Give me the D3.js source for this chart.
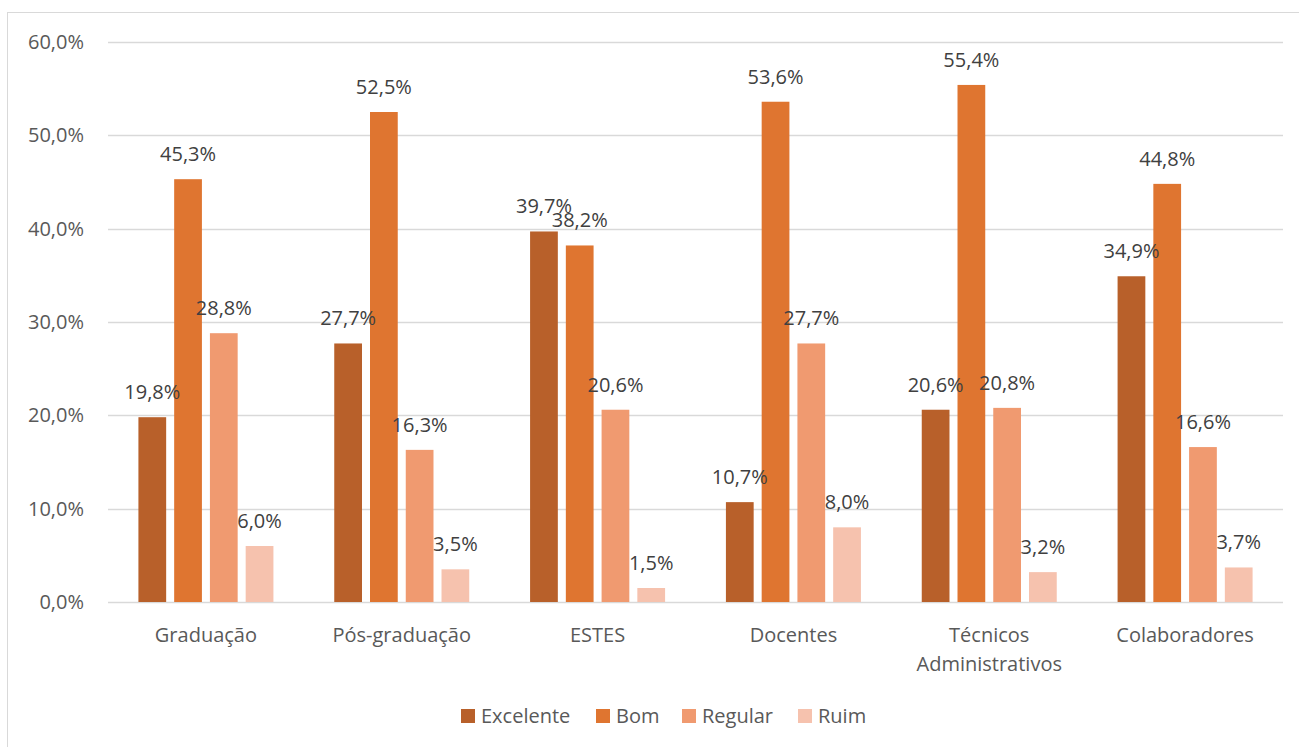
<!DOCTYPE html>
<html>
<head>
<meta charset="utf-8">
<script src="https://cdn.jsdelivr.net/npm/d3@7"></script>
<style>
  html, body { margin: 0; padding: 0; background: #fff; }
  svg text { font-family: "Open Sans", "Noto Sans", sans-serif; fill: #595959; }
  svg text.value { fill: #404040; }
</style>
</head>
<body>
<svg id="chart" width="1299" height="747"></svg>
<script>
// Categories (x axis), one line per entry
const categories = ["Graduação", "Pós-graduação", "ESTES", "Docentes", "Técnicos Administrativos", "Colaboradores"];
const categoryLines = [["Graduação"], ["Pós-graduação"], ["ESTES"], ["Docentes"], ["Técnicos", "Administrativos"], ["Colaboradores"]];

// Series (percent per category)
const seriesNames = ["Excelente", "Bom", "Regular", "Ruim"];
const excelente = [19.8, 27.7, 39.7, 10.7, 20.6, 34.9];
const bom       = [45.3, 52.5, 38.2, 53.6, 55.4, 44.8];
const regular   = [28.8, 16.3, 20.6, 27.7, 20.8, 16.6];
const ruim      = [6.0, 3.5, 1.5, 8.0, 3.2, 3.7];
const seriesColors = ["#B8602A", "#DF7530", "#F09A70", "#F6C2AE"];

// Y axis ticks
const yTicks = [0, 10, 20, 30, 40, 50, 60];

const seriesValues = [excelente, bom, regular, ruim];
const fmt = v => v.toFixed(1).replace(".", ",") + "%";
const FS = 20;

const svg = d3.select("#chart");

// Outer chart frame
svg.append("rect")
  .attr("x", 7.5).attr("y", 12.5)
  .attr("width", 1299).attr("height", 747)
  .attr("fill", "none").attr("stroke", "#d9d9d9").attr("stroke-width", 1);

const plot = { left: 108, right: 1283, top: 42, bottom: 602 };

const y = d3.scaleLinear().domain([0, 60]).range([plot.bottom, plot.top]);
const x0 = d3.scaleBand().domain(categories).range([plot.left, plot.right]).padding(0);
const groupW = 135;
const x1 = d3.scaleBand().domain(seriesNames).range([0, groupW]).paddingInner(0.224).paddingOuter(0);
const groupOffset = (x0.bandwidth() - groupW) / 2;

// Gridlines
svg.append("g").selectAll("line")
  .data(yTicks)
  .join("line")
  .attr("x1", plot.left).attr("x2", plot.right)
  .attr("y1", d => Math.round(y(d)) + 0.5).attr("y2", d => Math.round(y(d)) + 0.5)
  .attr("stroke", "#d9d9d9").attr("stroke-width", 1.3);

// Y axis labels
svg.append("g").selectAll("text")
  .data(yTicks)
  .join("text")
  .attr("x", 84).attr("y", d => y(d))
  .attr("dy", "0.35em")
  .attr("text-anchor", "end")
  .attr("font-size", FS)
  .text(d => d.toFixed(1).replace(".", ",") + "%");

// Bars and value labels
const groups = svg.append("g").selectAll("g")
  .data(categories)
  .join("g")
  .attr("transform", d => `translate(${x0(d) + groupOffset},0)`);

groups.each(function(cat, ci) {
  const g = d3.select(this);
  const rows = seriesNames.map((s, si) => ({ s, si, v: seriesValues[si][ci] }));
  g.selectAll("rect")
    .data(rows)
    .join("rect")
    .attr("x", d => x1(d.s))
    .attr("y", d => y(d.v))
    .attr("width", x1.bandwidth())
    .attr("height", d => y(0) - y(d.v))
    .attr("fill", d => seriesColors[d.si]);
  g.selectAll("text")
    .data(rows)
    .join("text")
    .attr("class", "value")
    .attr("x", d => x1(d.s) + x1.bandwidth() / 2)
    .attr("y", d => y(d.v) - 18)
    .attr("text-anchor", "middle")
    .attr("font-size", FS)
    .text(d => fmt(d.v));
});

// Category labels
const catLabels = svg.append("g").selectAll("text")
  .data(categories)
  .join("text")
  .attr("x", d => x0(d) + x0.bandwidth() / 2)
  .attr("y", 642)
  .attr("text-anchor", "middle")
  .attr("font-size", FS);
catLabels.each(function(d, i) {
  d3.select(this).selectAll("tspan")
    .data(categoryLines[i])
    .join("tspan")
    .attr("x", x0(d) + x0.bandwidth() / 2)
    .attr("dy", (t, j) => j === 0 ? 0 : 29)
    .text(t => t);
});

// Legend
const legendX = [461, 596, 682, 798];
const legend = svg.append("g").selectAll("g")
  .data(seriesNames)
  .join("g")
  .attr("transform", (d, i) => `translate(${legendX[i]},709)`);
legend.append("rect")
  .attr("width", 14).attr("height", 14)
  .attr("fill", (d, i) => seriesColors[i]);
legend.append("text")
  .attr("x", 20).attr("y", 7)
  .attr("dy", "0.35em")
  .attr("font-size", FS)
  .text(d => d);
</script>
</body>
</html>
